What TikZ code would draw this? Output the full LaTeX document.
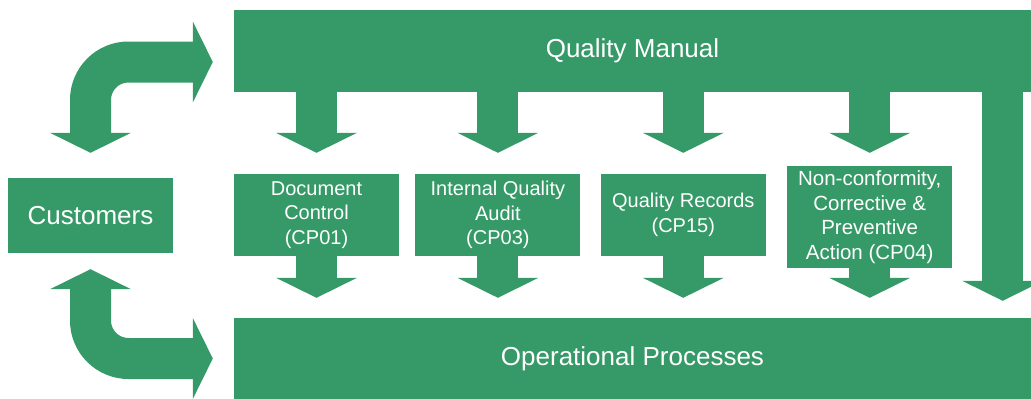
\documentclass[tikz,border=0pt]{standalone}
\usepackage{fontspec}
\setmainfont{Liberation Sans}
\usetikzlibrary{positioning,arrows.meta}
\definecolor{qgreen}{RGB}{53,154,104}
\tikzset{
  box/.style={fill=qgreen, text=white, minimum width=165pt, minimum height=82pt,
    inner sep=0pt, align=center, font=\fontsize{20}{24.5}\selectfont},
  bar/.style={fill=qgreen, text=white, minimum width=797pt, minimum height=82pt,
    inner sep=0pt, font=\fontsize{26}{31}\selectfont},
  fat/.style={draw=qgreen, line width=41pt,
    >={Triangle[width=81pt 0 0, length=20pt 0 0, line width=0pt]}, ->},
}
\begin{document}
\begin{tikzpicture}[x=1pt, y=-1pt]
  \useasboundingbox (0,0) rectangle (1031,399);
  \node[bar] (qm) at (632.5,50.5) {Quality Manual};
  \node[bar, minimum height=81pt] (op) at (632.5,358.5) {Operational Processes};
  \node[box, minimum height=75pt, font=\fontsize{26}{31}\selectfont] (cust) at (90.5,215.5) {Customers};

  \node[box] (dc) at (316.5,215) {Document\\Control\\(CP01)};
  \node[box, right=16pt of dc] (iqa) {Internal Quality\\Audit\\(CP03)};
  \node[box, right=20pt of iqa] (qr) {Quality Records\\(CP15)};
  \node[box, right=21pt of qr, yshift=-2pt, minimum height=102pt,
    font=\fontsize{20.5}{24.6}\selectfont] (nc)
    {Non-conformity,\\Corrective \&\\Preventive\\Action (CP04)};

  % manual down to the procedures
  \draw[fat, shorten >=21pt] (qm.south -| dc.north) -- (dc.north);
  \draw[fat, shorten >=21pt] (qm.south -| iqa.north) -- (iqa.north);
  \draw[fat, shorten >=21pt] (qm.south -| qr.north) -- (qr.north);
  \draw[fat, shorten >=13pt] (qm.south -| nc.north) -- (nc.north);

  % procedures down to the processes
  \draw[fat, shorten >=20pt] (dc.south) -- (dc.south |- op.north);
  \draw[fat, shorten >=20pt] (iqa.south) -- (iqa.south |- op.north);
  \draw[fat, shorten >=20pt] (qr.south) -- (qr.south |- op.north);
  \draw[fat, shorten >=20pt] (nc.south) -- (nc.south |- op.north);
  \draw[fat, shorten >=17pt] ([xshift=-28.5pt]qm.south east) -- ([xshift=-28.5pt]op.north east);

  % customers
  \draw[fat, <->, rounded corners=38pt, shorten <=25pt, shorten >=21pt]
    (cust.north) |- ([yshift=-11.5pt]qm.west);
  \draw[fat, <->, rounded corners=38pt, shorten <=16pt, shorten >=21pt]
    (cust.south) |- (op.west);
\end{tikzpicture}
\end{document}
